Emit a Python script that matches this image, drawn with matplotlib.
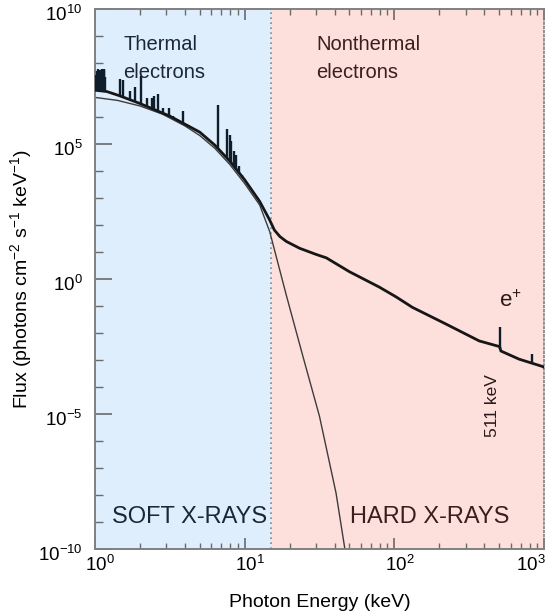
#!/usr/bin/env python3
"""
Solar flare X-ray spectrum: thermal vs nonthermal components
"""

import numpy as np
import matplotlib.pyplot as plt
from matplotlib.ticker import FixedLocator, LogLocator, NullFormatter
from matplotlib.transforms import ScaledTranslation

plt.rcParams['font.family'] = ['Liberation Sans', 'DejaVu Sans']
plt.rcParams['mathtext.fontset'] = 'custom'
plt.rcParams['mathtext.rm'] = 'Liberation Sans'
plt.rcParams['mathtext.default'] = 'regular'

# thermal (thin) component, keV / photons cm-2 s-1 keV-1
therm_E = [1.0, 1.41, 2.0, 2.82, 3.98, 5.01, 6.31, 7.94, 10.0, 12.6, 14.7,
           19.0, 24.5, 31.6, 40.8, 48.0]
therm_F = [5.4e6, 4.2e6, 2.6e6, 1.3e6, 4.8e5, 2.1e5, 7.1e4, 1.8e4, 3.5e3,
           5.6e2, 58, 0.25, 1.4e-3, 8.5e-6, 1.2e-8, 4e-11]

# total spectrum (thick)
total_E = [1.0, 1.2, 1.45, 2.0, 3.16, 5.01, 6.31, 7.94, 10.0, 12.6, 14.7,
           15.8, 17.2, 19.0, 23.3, 30.0, 35.1, 50.1, 79.4, 103, 132, 221, 369,
           505, 515, 681, 975, 1000]
total_F = [1.0e7, 8.9e6, 6.3e6, 3.2e6, 1.1e6, 2.8e5, 9.3e4, 2.4e4, 4.8e3,
           7.6e2, 155, 66, 38, 25, 14, 8.3, 6.2, 1.9, 0.51, 0.22, 9.1e-2,
           2.2e-2, 5.2e-3, 3.2e-3, 2.2e-3, 1.1e-3, 5.9e-4, 5.5e-4]

# emission lines: energy and peak flux
line_E = [1.02, 1.035, 1.05, 1.065, 1.08, 1.095, 1.11, 1.125, 1.14, 1.155,
          1.17, 1.47, 1.54, 1.71, 1.85, 2.02, 2.21, 2.39, 2.47, 2.64, 2.85,
          3.13, 3.33, 3.88, 4.64, 6.66, 7.63, 7.94, 8.15, 8.44, 8.72, 9.15,
          9.64, 511, 836]
line_F = [3.5e7, 5.0e7, 6.3e7, 4.0e7, 5.6e7, 3.0e7, 6.3e7, 4.5e7, 5.6e7,
          6.3e7, 3.2e7, 2.6e7, 2.3e7, 9.3e6, 1.26e7, 3.4e7, 5.2e6, 5.2e6,
          6.2e6, 7.1e6, 2.2e6, 2.2e6, 1.1e6, 1.7e6, 3.5e5, 2.8e6, 3.8e5,
          2.2e5, 1.26e5, 5.5e4, 4.0e4, 1.6e4, 7.4e3, 1.66e-2, 1.66e-3]

split_E = 15
ytick_vals = [1e-10, 1e-5, 1, 1e5, 1e10]
ytick_labels = ['10$^{-10}$', '10$^{-5}$', '10$^{0}$', '10$^{5}$', '10$^{10}$']
xtick_vals = [1, 10, 100, 1000]
xtick_labels = ['10$^{0}$', '10$^{1}$', '10$^{2}$', '10$^{3}$']

fig = plt.figure(figsize=(5.5, 6.11), dpi=100)
ax = fig.add_axes([0.1727, 0.101, 0.8164, 0.884])
ax.set_xscale('log')
ax.set_yscale('log')
ax.set_xlim(1, 1000)
ax.set_ylim(1e-10, 1e10)

ax.axvspan(1, split_E, color='#dfeefc', zorder=0)
ax.axvspan(split_E, 1000, color='#fde0dc', zorder=0)
ax.axvline(split_E, color='#7d8a96', ls=(0, (1, 2)), lw=1.2, zorder=1)

ax.plot(therm_E, therm_F, color='#3c3c3c', lw=1.0, zorder=2)
ax.plot(total_E, total_F, color='#161616', lw=2.0, zorder=3)

base = 10 ** np.interp(np.log10(line_E), np.log10(total_E), np.log10(total_F))
ax.vlines(line_E, base, line_F, color='#0f1c2a', lw=1.7, zorder=3)

# annotations
ax.text(1.54, 10 ** 8.48, 'Thermal', fontsize=14.5, color='#1c2733')
ax.text(1.54, 10 ** 7.45, 'electrons', fontsize=14.5, color='#1c2733')
ax.text(30.1, 10 ** 8.48, 'Nonthermal', fontsize=14.5, color='#3a1f1f')
ax.text(30.1, 10 ** 7.45, 'electrons', fontsize=14.5, color='#3a1f1f')
ax.text(1.30, 10 ** -9.02, 'SOFT X-RAYS', fontsize=17, color='#1c2733')
ax.text(50.7, 10 ** -9.02, 'HARD X-RAYS', fontsize=17, color='#3a1f1f')
ax.text(501, 10 ** -1.02, 'e$^{+}$', fontsize=16, color='#2a1a1a')
ax.text(455, 10 ** -4.69, '511 keV', fontsize=12.5, rotation=90,
        ha='center', va='center', color='#2a1a1a')

# axes styling
ax.set_yticks(ytick_vals)
ax.set_yticklabels(ytick_labels)
ax.yaxis.set_minor_locator(FixedLocator(10.0 ** np.arange(-10, 11)))
ax.yaxis.set_minor_formatter(NullFormatter())
ax.set_xticks(xtick_vals)
ax.set_xticklabels(xtick_labels)
ax.xaxis.set_minor_locator(LogLocator(base=10, subs=range(2, 10), numticks=20))
ax.xaxis.set_minor_formatter(NullFormatter())

ax.tick_params(which='both', direction='in', top=True, right=False,
               color='#6a6a6a')
ax.tick_params(axis='y', which='major', length=12, width=1.2, pad=9,
               labelsize=13.5)
ax.tick_params(axis='y', which='minor', length=6, width=1.0)
ax.tick_params(axis='x', which='major', length=8, width=1.2, pad=4,
               labelsize=13.5)
ax.tick_params(axis='x', which='minor', length=4.5, width=1.0)

# nudge tick labels like the original artwork
xlabels = ax.get_xticklabels()
for i, lab in enumerate(xlabels):
    dx = -0.13 if i == len(xlabels) - 1 else 0.05
    lab.set_transform(lab.get_transform() + ScaledTranslation(dx, 0, fig.dpi_scale_trans))
for lab in ax.get_yticklabels():
    lab.set_transform(lab.get_transform() + ScaledTranslation(0, -0.04, fig.dpi_scale_trans))

for side in ['left', 'bottom', 'top']:
    ax.spines[side].set_color('#808080')
    ax.spines[side].set_linewidth(1.4)
ax.spines['right'].set_color('#808080')
ax.spines['right'].set_linestyle((0, (1, 1.5)))
ax.spines['right'].set_linewidth(1.2)

ax.set_xlabel('Photon Energy (keV)', fontsize=14, labelpad=14)
ax.set_ylabel('Flux (photons cm$^{-2}$ s$^{-1}$ keV$^{-1}$)', fontsize=14,
              labelpad=3)

plt.savefig('out.png', dpi=100)
plt.close()
print('Saved: out.png')
